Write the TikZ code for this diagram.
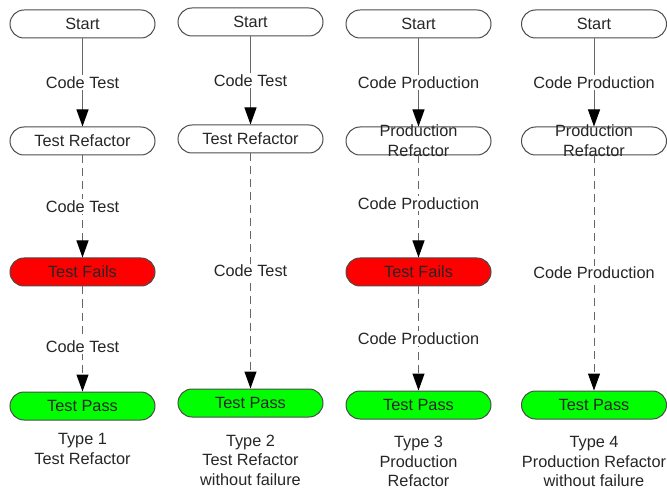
\documentclass[tikz,border=0pt]{standalone}
\usepackage{fontspec}
\setmainfont{Liberation Sans}
\usetikzlibrary{arrows.meta}
\newcommand{\fs}{\fontsize{16.3}{19.5}\selectfont}
\begin{document}
\begin{tikzpicture}[x=1pt,y=-1pt,
  box/.style={draw=black!70, line width=1pt, rounded corners=14pt, minimum width=145pt, minimum height=28pt, inner sep=0pt, font=\fs, text=black!85},
  failbox/.style={box, fill=red},
  passbox/.style={box, fill=green},
  lbl/.style={fill=white, inner sep=1.5pt, font=\fs, text=black!85},
  captext/.style={font=\fs, text=black!85, align=center},
  solidarr/.style={draw=black!60, line width=1pt, -{Triangle[length=17pt,width=12pt,color=black]}},
  dasharr/.style={solidarr, dash pattern=on 8pt off 5pt}]
\useasboundingbox (0,0) rectangle (667,489);
% column 1
\node[box] (s1) at (82.5,24) {Start};
\node[box] (r1) at (82.5,141) {Test Refactor};
\node[failbox] (f1) at (82.5,272) {Test Fails};
\node[passbox] (p1) at (82.5,406) {Test Pass};
\node[captext] (c1) at (82.5,449) {Type 1\\Test Refactor};
\draw[solidarr] (s1) -- node[lbl]{Code Test} (r1);
\draw[dasharr] (r1) -- node[lbl]{Code Test} (f1);
\draw[dasharr] (f1) -- node[lbl,pos=0.57]{Code Test} (p1);
% column 2
\node[box] (s2) at (250.5,22) {Start};
\node[box] (r2) at (250.5,139) {Test Refactor};
\node[passbox] (p2) at (250.5,403) {Test Pass};
\node[captext] (c2) at (250.5,460) {Type 2\\Test Refactor\\without failure};
\draw[solidarr] (s2) -- node[lbl]{Code Test} (r2);
\draw[dasharr] (r2) -- node[lbl]{Code Test} (p2);
% column 3
\node[box] (s3) at (418.5,24) {Start};
\node[box] (r3) at (418.5,141) {};
\node[failbox] (f3) at (418.5,272) {Test Fails};
\node[passbox] (p3) at (418.5,405) {Test Pass};
\node[captext] (c3) at (418.5,461.5) {Type 3\\Production\\Refactor};
\draw[solidarr] (s3) -- node[lbl]{Code Production} (r3);
\draw[dasharr] (r3) -- node[lbl,pos=0.47]{Code Production} (f3);
\draw[dasharr] (f3) -- node[lbl]{Code Production} (p3);
\node[captext] (t3) at (418.5,140.5) {Production\\Refactor};
% column 4
\node[box] (s4) at (594,24) {Start};
\node[box] (r4) at (594,141) {};
\node[passbox] (p4) at (594,405) {Test Pass};
\node[captext] (c4) at (594,461.5) {Type 4\\Production Refactor\\without failure};
\draw[solidarr] (s4) -- node[lbl]{Code Production} (r4);
\draw[dasharr] (r4) -- node[lbl]{Code Production} (p4);
\node[captext] (t4) at (594,140.5) {Production\\Refactor};
\end{tikzpicture}
\end{document}
